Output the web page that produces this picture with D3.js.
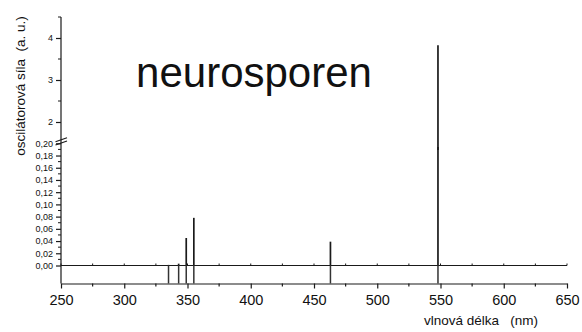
<!DOCTYPE html>
<html>
<head>
<meta charset="utf-8">
<script src="https://cdn.jsdelivr.net/npm/d3@7"></script>
<style>
  html, body { margin: 0; padding: 0; background: #fff; }
  svg { display: block; }
  text { font-family: "Liberation Sans", Arial, sans-serif; fill: #111; }
  .pre { white-space: pre; }
</style>
</head>
<body>
<svg id="chart" width="582" height="332"></svg>
<script>
// Calculated transitions of neurosporene: wavelength (nm) and oscillator strength (a. u.)
const wavelengths = [335, 343, 349, 355, 463, 548];
const strengths   = [0.001, 0.003, 0.045, 0.078, 0.039, 3.83];

// Axis ticks
const xTicks       = [250, 300, 350, 400, 450, 500, 550, 600, 650];
const xMinorTicks  = [275, 325, 375, 425, 475, 525, 575, 625];
const yLowTicks    = [0.00, 0.02, 0.04, 0.06, 0.08, 0.10, 0.12, 0.14, 0.16, 0.18, 0.20];
const yLowMinor    = [0.01, 0.03, 0.05, 0.07, 0.09, 0.11, 0.13, 0.15, 0.17, 0.19];
const yUpTicks     = [2, 3, 4];
const yUpMinor     = [2.5, 3.5, 4.5];

// Broken y axis: lower segment [0, lowMax], upper segment [upMin, upMax]
const lowMax = 0.194, upMin = 1.333, upMax = 4.5;

const svg = d3.select("#chart");
const fmtComma = d => d3.format(".2f")(d).replace(".", ",");

const x = d3.scaleLinear().domain([250, 650]).range([61, 567]);
const yLow = d3.scaleLinear().domain([0, 0.2]).range([265.5, 143.3]);
const yUp  = d3.scaleLinear().domain([2, 4]).range([122, 38]);
const yBottom = 283.5;   // position of the wavelength axis

const ink = "#1a1a1a";

// Zero line across the plot
svg.append("line")
  .attr("x1", x(250)).attr("x2", x(650))
  .attr("y1", yLow(0)).attr("y2", yLow(0))
  .attr("stroke", ink).attr("stroke-width", 1.2);

// Small ticks on the zero line every 25 nm
svg.append("g").selectAll("line")
  .data(xTicks.concat(xMinorTicks))
  .join("line")
  .attr("x1", d => x(d)).attr("x2", d => x(d))
  .attr("y1", yLow(0)).attr("y2", yLow(0) - 2)
  .attr("stroke", ink).attr("stroke-width", 1);

// Bottom wavelength axis
const xAxis = d3.axisBottom(x).tickValues(xTicks).tickSize(5).tickSizeOuter(0).tickFormat(d3.format("d"));
const gx = svg.append("g").attr("transform", `translate(0,${yBottom})`).call(xAxis);
gx.select(".domain").attr("stroke", ink).attr("stroke-width", 1.2);
gx.selectAll(".tick line").attr("stroke", ink).attr("stroke-width", 1.2);
gx.selectAll(".tick text").attr("font-size", 14.5).attr("dy", "0.95em").attr("fill", "#111")
  .style("font-family", '"Liberation Sans", Arial, sans-serif');
svg.append("g").selectAll("line")
  .data(xMinorTicks)
  .join("line")
  .attr("x1", d => x(d)).attr("x2", d => x(d))
  .attr("y1", yBottom).attr("y2", yBottom + 3)
  .attr("stroke", ink).attr("stroke-width", 1.2);

// Vertical axis line
svg.append("line")
  .attr("x1", x(250)).attr("x2", x(250))
  .attr("y1", yUp(upMax)).attr("y2", yBottom)
  .attr("stroke", ink).attr("stroke-width", 1.2);

// Lower y axis ticks
const gLow = svg.append("g").attr("transform", `translate(${x(250)},0)`)
  .call(d3.axisLeft(yLow).tickValues(yLowTicks).tickSize(5).tickFormat(fmtComma));
gLow.select(".domain").remove();
gLow.selectAll(".tick line").attr("stroke", ink).attr("stroke-width", 1.2);
gLow.selectAll(".tick text").attr("font-size", 9).attr("x", -8).attr("fill", "#111")
  .style("font-family", '"Liberation Sans", Arial, sans-serif');
svg.append("g").selectAll("line")
  .data(yLowMinor)
  .join("line")
  .attr("x1", x(250) - 3).attr("x2", x(250))
  .attr("y1", d => yLow(d)).attr("y2", d => yLow(d))
  .attr("stroke", ink).attr("stroke-width", 1);

// Upper y axis ticks
const gUp = svg.append("g").attr("transform", `translate(${x(250)},0)`)
  .call(d3.axisLeft(yUp).tickValues(yUpTicks).tickSize(5).tickFormat(d3.format("d")));
gUp.select(".domain").remove();
gUp.selectAll(".tick line").attr("stroke", ink).attr("stroke-width", 1.2);
gUp.selectAll(".tick text").attr("font-size", 9).attr("x", -8).attr("fill", "#111")
  .style("font-family", '"Liberation Sans", Arial, sans-serif');
svg.append("g").selectAll("line")
  .data(yUpMinor)
  .join("line")
  .attr("x1", x(250) - 3).attr("x2", x(250))
  .attr("y1", d => yUp(d)).attr("y2", d => yUp(d))
  .attr("stroke", ink).attr("stroke-width", 1);

// Axis break marks
const brk = svg.append("g").attr("stroke", ink).attr("stroke-width", 1.2);
[0, 3.3].forEach(off => {
  brk.append("line")
    .attr("x1", x(250) - 5.5).attr("y1", 141.7 + off)
    .attr("x2", x(250) + 6).attr("y2", 137.7 + off);
});

// Stick spectrum: strengths above the zero line
const sticks = svg.append("g").attr("stroke", ink).attr("stroke-width", 1.7);
wavelengths.forEach((w, i) => {
  const v = strengths[i];
  if (v <= lowMax) {
    sticks.append("line")
      .attr("x1", x(w)).attr("x2", x(w))
      .attr("y1", yLow(0)).attr("y2", yLow(v));
  } else {
    sticks.append("line")
      .attr("x1", x(w)).attr("x2", x(w))
      .attr("y1", yLow(0)).attr("y2", yLow(lowMax));
    sticks.append("line")
      .attr("x1", x(w)).attr("x2", x(w))
      .attr("y1", yUp(upMin)).attr("y2", yUp(v));
  }
});

// Transition positions marked between the zero line and the wavelength axis
svg.append("g").selectAll("line")
  .data(wavelengths)
  .join("line")
  .attr("x1", d => x(d)).attr("x2", d => x(d))
  .attr("y1", yLow(0)).attr("y2", yBottom)
  .attr("stroke", "#333").attr("stroke-width", 1.5);

// Axis titles
svg.append("text")
  .attr("class", "pre")
  .attr("transform", "translate(25,86) rotate(-90)")
  .attr("text-anchor", "middle")
  .attr("font-size", 13.5)
  .text("oscilátorová síla  (a. u.)");

svg.append("text")
  .attr("class", "pre")
  .attr("x", 481).attr("y", 325)
  .attr("text-anchor", "middle")
  .attr("font-size", 13.5)
  .text("vlnová délka   (nm)");

// Compound name
svg.append("text")
  .attr("x", 254).attr("y", 87)
  .attr("text-anchor", "middle")
  .attr("font-size", 42)
  .text("neurosporen");
</script>
</body>
</html>
